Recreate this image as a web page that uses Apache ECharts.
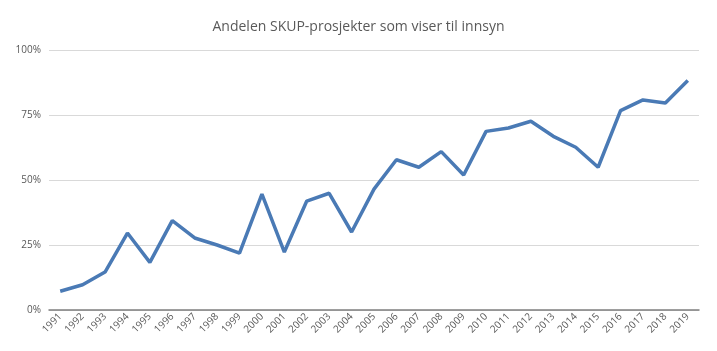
<!DOCTYPE html>
<html>
<head>
<meta charset="utf-8">
<script src="https://cdn.jsdelivr.net/npm/echarts@6/dist/echarts.min.js"></script>
<style>
  html, body { margin: 0; padding: 0; background: #fff; }
  #chart { width: 717px; height: 351px; }
</style>
</head>
<body>
<div id="chart"></div>
<script>
var years = ['1991', '1992', '1993', '1994', '1995', '1996', '1997', '1998', '1999', '2000',
  '2001', '2002', '2003', '2004', '2005', '2006', '2007', '2008', '2009', '2010',
  '2011', '2012', '2013', '2014', '2015', '2016', '2017', '2018', '2019'];
var shares = [7.2, 9.7, 14.6, 29.6, 18.3, 34.4, 27.7, 25.0, 21.9, 44.6,
  22.3, 41.9, 44.9, 30.0, 46.5, 57.8, 54.9, 60.9, 51.9, 68.7,
  70.0, 72.6, 66.8, 62.6, 54.9, 76.7, 80.8, 79.6, 88.3];
var yTicks = [0, 25, 50, 75, 100];

var chart = echarts.init(document.getElementById('chart'));

chart.setOption({
  animation: false,
  title: {
    text: 'Andelen SKUP-prosjekter som viser til innsyn',
    left: 'center',
    top: 15,
    textStyle: { fontFamily: 'Open Sans', fontSize: 14, fontWeight: 'normal', color: '#595959' }
  },
  grid: { left: 49, right: 18, top: 50, bottom: 41 },
  xAxis: {
    type: 'category',
    data: years,
    boundaryGap: true,
    axisLine: { lineStyle: { color: '#7f7f7f', width: 1.5 } },
    axisTick: { show: false },
    axisLabel: { rotate: 45, fontSize: 10, color: '#595959', fontFamily: 'Open Sans', margin: 5, interval: 0 }
  },
  yAxis: {
    type: 'value',
    min: yTicks[0],
    max: yTicks[yTicks.length - 1],
    interval: 25,
    axisLine: { show: false },
    axisTick: { show: false },
    splitLine: { lineStyle: { color: '#d9d9d9', width: 1 } },
    axisLabel: { formatter: '{value}%', fontSize: 10, color: '#595959', fontFamily: 'Open Sans', margin: 8 }
  },
  series: [{
    type: 'line',
    data: shares,
    symbol: 'none',
    lineStyle: { color: '#4a7ab5', width: 3.5 },
    itemStyle: { color: '#4a7ab5' }
  }]
});
</script>
</body>
</html>
